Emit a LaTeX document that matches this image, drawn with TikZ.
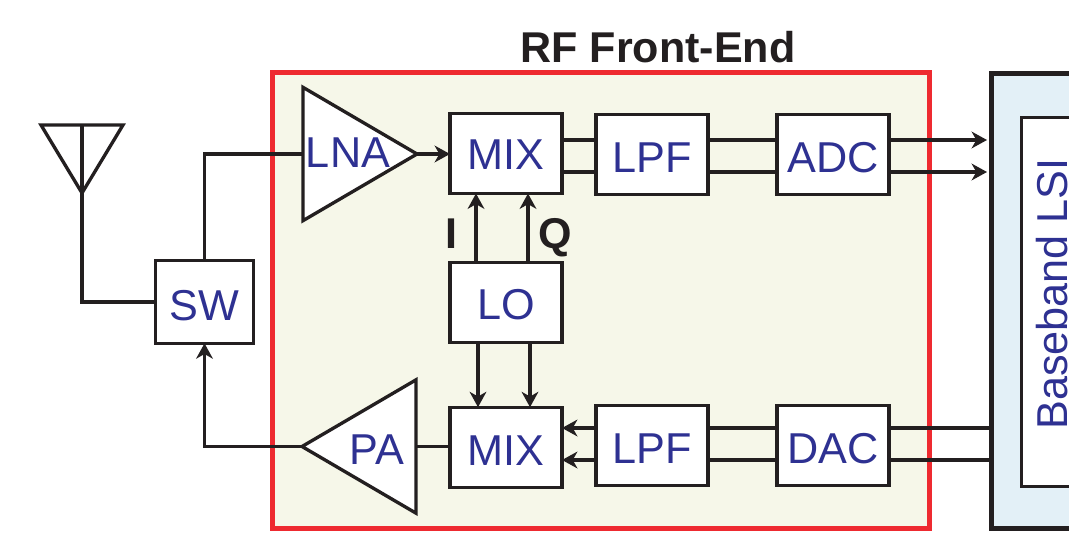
\documentclass[tikz,border=0pt]{standalone}
\usepackage{fontspec}
\setmainfont{Liberation Sans}
\usetikzlibrary{arrows.meta,shapes.geometric}
\definecolor{ink}{HTML}{231F20}
\definecolor{lbl}{HTML}{2E3192}
\definecolor{redb}{HTML}{EE2A30}
\definecolor{cream}{HTML}{F6F7E9}
\definecolor{pale}{HTML}{E3F0F7}
\tikzset{
  x=0.75pt,y=-0.75pt,
  blk/.style={draw=ink,fill=white,line width=2.5pt,rectangle,inner sep=0pt,outer sep=0pt,
    text=lbl,font=\fontsize{32.4pt}{32.4pt}\selectfont,text height=27pt,text depth=0pt,
    minimum width=84pt,minimum height=60pt},
  wire/.style={draw=ink,line width=2.4pt},
  arrowed/.style={wire,-{Stealth[length=11.5pt,width=12.5pt,inset=3.5pt]}},
  tri/.style={draw=ink,fill=white,line width=2.5pt,isosceles triangle,isosceles triangle stretches=true,
    inner sep=0pt,outer sep=0pt,minimum width=100pt,minimum height=85.5pt,miter limit=10},
  lab/.style={text=lbl,font=\fontsize{32.4pt}{32.4pt}\selectfont,inner sep=0pt},
  ttl/.style={text=ink,font=\bfseries\fontsize{32.3pt}{32.3pt}\selectfont,inner sep=0pt},
}
\begin{document}
\begin{tikzpicture}
\clip (0,0) rectangle (1069,542);
\fill[white] (0,0) rectangle (1069,542);
% frames
\node[draw=redb,fill=cream,line width=3.7pt,rectangle,inner sep=0pt,minimum width=493pt,minimum height=342pt] (rf) at (601.25,300.5) {};
\node[draw=ink,fill=pale,line width=3.7pt,rectangle,inner sep=0pt,minimum width=81.4pt,minimum height=341pt] (bbouter) at (1045.75,301.25) {};
\node[draw=ink,fill=white,line width=2.5pt,rectangle,inner sep=0pt,minimum width=48pt,minimum height=276.75pt] (bbinner) at (1053.5,302) {};
\node[lab,rotate=90] (bbtext) at (1052.5,294) {Baseband LSI};
\node[ttl] (title) at (658,47) {RF Front-End};
% guide coordinates
\coordinate (r1) at (0,140);
\coordinate (r2) at (0,172);
\coordinate (r3) at (0,428);
\coordinate (r4) at (0,460);
\coordinate (xa) at (476,0);
\coordinate (xb) at (528,0);
\coordinate (xc) at (478,0);
\coordinate (xd) at (530,0);
\coordinate (ah1) at (987,140);
\coordinate (ah2) at (987,172);
% blocks
\node[blk,minimum width=73.5pt,minimum height=62pt] (sw) at (204.5,302) {SW};
\node[blk,text height=24.5pt] (mixa) at (506,153.5) {MIX};
\node[blk,text height=26.5pt] (lpfa) at (652,154.5) {LPF};
\node[blk] (adc) at (833,154.5) {ADC};
\node[blk,text height=26pt] (lo) at (506,302.5) {LO};
\node[blk] (mixb) at (506,447.2) {MIX};
\node[blk] (lpfb) at (652,445.5) {LPF};
\node[blk] (dac) at (833,445.5) {DAC};
% amplifiers
\node[tri,anchor=apex] (lna) at (417,154) {};
\node[lab] (lnat) at (348,153) {LNA};
\node[tri,shape border rotate=180,anchor=apex] (pa) at (302,446.5) {};
\node[lab] (pat) at (377,450) {PA};
% I Q
\node[ttl,anchor=base] (ilab) at (451,248) {I};
\node[ttl,anchor=base] (qlab) at (555,248) {Q};
% antenna
\coordinate (antl) at (41,125);
\coordinate (antr) at (123,125);
\coordinate (antb) at (82,193);
\coordinate (antm) at (82,125);
\draw[wire,line width=2.5pt,line join=miter] (antl) -- (antr) -- (antb) -- cycle;
\draw[wire] (antm) |- (sw.west);
% connectors
\draw[wire] (sw.north) |- (lna.lower side);
\draw[arrowed] (lna.apex) -- (lna.apex -| mixa.west);
\draw[wire] (mixa.east |- r1) -- (lpfa.west |- r1);
\draw[wire] (mixa.east |- r2) -- (lpfa.west |- r2);
\draw[wire] (lpfa.east |- r1) -- (adc.west |- r1);
\draw[wire] (lpfa.east |- r2) -- (adc.west |- r2);
\draw[arrowed] (adc.east |- r1) -- (ah1);
\draw[arrowed] (adc.east |- r2) -- (ah2);
\draw[arrowed] (lo.north -| xa) -- (mixa.south -| xa);
\draw[arrowed] (lo.north -| xb) -- (mixa.south -| xb);
\draw[arrowed] (lo.south -| xc) -- (mixb.north -| xc);
\draw[arrowed] (lo.south -| xd) -- (mixb.north -| xd);
\draw[arrowed] (lpfb.west |- r3) -- (mixb.east |- r3);
\draw[arrowed] (lpfb.west |- r4) -- (mixb.east |- r4);
\draw[wire] (lpfb.east |- r3) -- (dac.west |- r3);
\draw[wire] (lpfb.east |- r4) -- (dac.west |- r4);
\draw[wire] (dac.east |- r3) -- (bbouter.west |- r3);
\draw[wire] (dac.east |- r4) -- (bbouter.west |- r4);
\draw[wire] (pa.lower side) -- (pa.lower side -| mixb.west);
\draw[arrowed] (pa.apex) -| (sw.south);
\end{tikzpicture}
\end{document}
